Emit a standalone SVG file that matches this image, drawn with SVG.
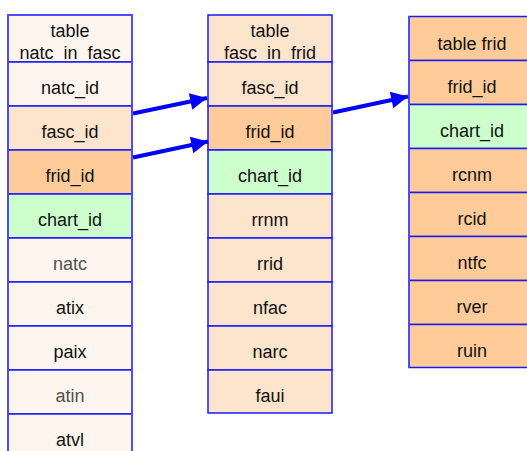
<svg xmlns="http://www.w3.org/2000/svg" width="527" height="451" viewBox="0 0 527 451">
  <defs>
    <marker id="arrowhead" viewBox="0 0 10 10" refX="10" refY="5" markerWidth="4.5" markerHeight="4.2" orient="auto" markerUnits="strokeWidth">
      <path d="M0,0 L10,5 L0,10 Z" fill="#0000ff"/>
    </marker>
    <style>
      .cell { stroke: #1a1aff; stroke-width: 1.5; }
      .frame { fill: none; stroke: #4d4dff; stroke-width: 1.6; }
      .cream { fill: #fef6ee; }
      .peach { fill: #fde4cd; }
      .orange { fill: #ffcc99; }
      .green { fill: #ccffcc; }
      text { font-family: "Liberation Sans", Arial, sans-serif; font-size: 18px; fill: #111; text-anchor: middle; }
      text.grey { fill: #505050; }
      .link { stroke: #0000ff; stroke-width: 4; fill: none; marker-end: url(#arrowhead); }
    </style>
  </defs>
  <rect width="527" height="451" fill="#ffffff"/>

  <!-- table natc_in_fasc -->
  <g id="natc_in_fasc">
    <rect class="cell cream" x="8" y="15" width="124" height="47"/>
    <text x="70" y="37">table</text>
    <text x="70" y="59">natc_in_fasc</text>
    <rect class="cell cream" x="8" y="62" width="124" height="44"/>
    <text x="70" y="94">natc_id</text>
    <rect class="cell peach" x="8" y="106" width="124" height="44"/>
    <text x="70" y="138">fasc_id</text>
    <rect class="cell orange" x="8" y="150" width="124" height="44"/>
    <text x="70" y="182">frid_id</text>
    <rect class="cell green" x="8" y="194" width="124" height="44"/>
    <text x="70" y="226">chart_id</text>
    <rect class="cell cream" x="8" y="238" width="124" height="44"/>
    <text class="grey" x="70" y="270">natc</text>
    <rect class="cell cream" x="8" y="282" width="124" height="44"/>
    <text x="70" y="314">atix</text>
    <rect class="cell cream" x="8" y="326" width="124" height="44"/>
    <text x="70" y="358">paix</text>
    <rect class="cell cream" x="8" y="370" width="124" height="44"/>
    <text class="grey" x="70" y="402">atin</text>
    <rect class="cell cream" x="8" y="414" width="124" height="50"/>
    <text x="70" y="446">atvl</text>
    <rect class="frame" x="8" y="15" width="124" height="449"/>
  </g>

  <!-- table fasc_in_frid -->
  <g id="fasc_in_frid">
    <rect class="cell peach" x="208" y="15" width="124" height="47"/>
    <text x="270" y="37">table</text>
    <text x="270" y="59">fasc_in_frid</text>
    <rect class="cell peach" x="208" y="62" width="124" height="44"/>
    <text x="270" y="94">fasc_id</text>
    <rect class="cell orange" x="208" y="106" width="124" height="44"/>
    <text x="270" y="138">frid_id</text>
    <rect class="cell green" x="208" y="150" width="124" height="44"/>
    <text x="270" y="182">chart_id</text>
    <rect class="cell peach" x="208" y="194" width="124" height="44"/>
    <text x="270" y="226">rrnm</text>
    <rect class="cell peach" x="208" y="238" width="124" height="44"/>
    <text x="270" y="270">rrid</text>
    <rect class="cell peach" x="208" y="282" width="124" height="44"/>
    <text x="270" y="314">nfac</text>
    <rect class="cell peach" x="208" y="326" width="124" height="44"/>
    <text x="270" y="358">narc</text>
    <rect class="cell peach" x="208" y="370" width="124" height="43"/>
    <text x="270" y="402">faui</text>
  </g>

  <!-- table frid -->
  <g id="frid">
    <rect class="cell orange" x="409" y="16.5" width="130" height="44"/>
    <text x="472" y="50">table frid</text>
    <rect class="cell orange" x="409" y="60.5" width="130" height="44"/>
    <text x="472" y="93">frid_id</text>
    <rect class="cell green" x="409" y="104.5" width="130" height="44"/>
    <text x="472" y="137">chart_id</text>
    <rect class="cell orange" x="409" y="148.5" width="130" height="44"/>
    <text x="472" y="181">rcnm</text>
    <rect class="cell orange" x="409" y="192.5" width="130" height="44"/>
    <text x="472" y="225">rcid</text>
    <rect class="cell orange" x="409" y="236.5" width="130" height="44"/>
    <text x="472" y="269">ntfc</text>
    <rect class="cell orange" x="409" y="280.5" width="130" height="44"/>
    <text x="472" y="313">rver</text>
    <rect class="cell orange" x="409" y="324.5" width="130" height="43"/>
    <text x="472" y="357">ruin</text>
    <line x1="409" y1="16.5" x2="409" y2="367.5" stroke="#4d4dff" stroke-width="1.6"/>
  </g>

  <!-- foreign-key links -->
  <g id="connectors">
    <line class="link" x1="133" y1="113.5" x2="207" y2="98"/>
    <line class="link" x1="133" y1="157.5" x2="208" y2="141.5"/>
    <line class="link" x1="333" y1="112.5" x2="408" y2="96.5"/>
  </g>
</svg>
